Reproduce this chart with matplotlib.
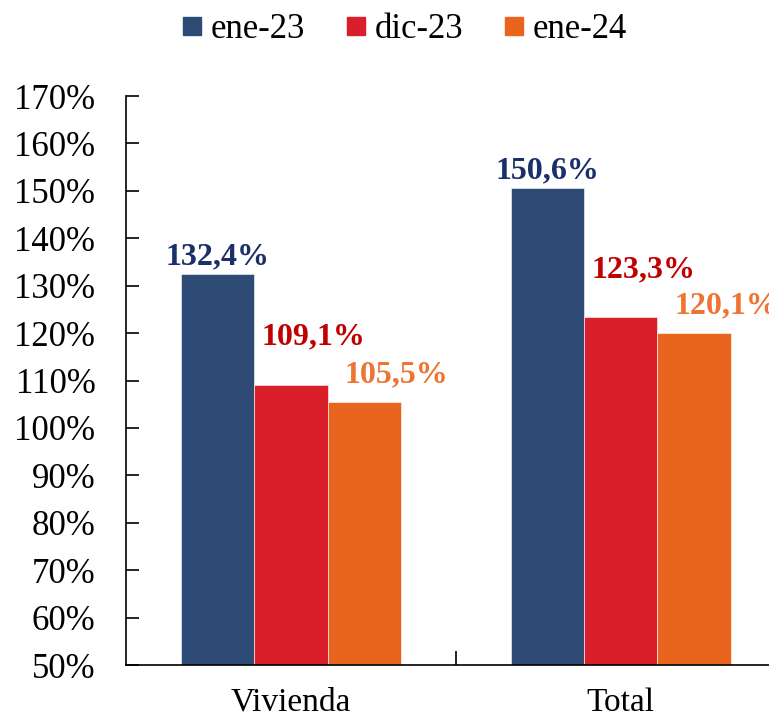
import numpy as np
import matplotlib
matplotlib.use("Agg")
import matplotlib.pyplot as plt
from matplotlib.lines import Line2D

# data
categories = ["Vivienda", "Total"]
series = ["ene-23", "dic-23", "ene-24"]
ene23 = [132.4, 150.6]
dic23 = [109.1, 123.3]
ene24 = [105.5, 120.1]
yticks = list(range(50, 171, 10))

bar_colors = ["#2E4B76", "#DA1F2A", "#E9651E"]
text_colors = ["#1B2F68", "#C00000", "#ED7432"]
# label offsets (points) relative to bar top-center
offsets = [(0, 2), (16, 24), (23, 9)]

plt.rcParams["font.family"] = ["Liberation Serif", "DejaVu Serif"]

fig = plt.figure(figsize=(7.69, 7.17), dpi=100)
ax = fig.add_axes([0.1638, 0.0725, 0.858, 0.7936])

x = np.arange(len(categories))
w = 0.222
vals = [ene23, dic23, ene24]
for i, v in enumerate(vals):
    xs = x + (i - 1) * w
    ax.bar(xs, v, width=w, bottom=0, color=bar_colors[i], edgecolor="white", linewidth=0.4)
    for xi, vi in zip(xs, v):
        ax.annotate(f"{vi:.1f}%".replace(".", ","), (xi, vi),
                    textcoords="offset points", xytext=offsets[i],
                    ha="center", va="bottom", fontsize=23, fontweight="bold",
                    color=text_colors[i], annotation_clip=False)

ax.set_ylim(50, 170)
ax.set_xlim(-0.5, 1.5)
ax.set_yticks(yticks)
ax.set_yticklabels([f"{t}%" for t in yticks], fontsize=25)
ax.tick_params(axis="y", direction="in", length=9, width=1.2, pad=22)
ax.set_xticks(x)
ax.set_xticklabels(categories, fontsize=24)
ax.tick_params(axis="x", length=0, pad=16)
# category boundary tick
ax.set_xticks([0.5], minor=True)
ax.tick_params(axis="x", which="minor", direction="in", length=10, width=1.2)

for s in ["top", "right"]:
    ax.spines[s].set_visible(False)
for s in ["left", "bottom"]:
    ax.spines[s].set_linewidth(1.2)

handles = [Line2D([], [], marker="s", linestyle="none", markersize=13,
                  markerfacecolor=c, markeredgecolor=c) for c in bar_colors]
fig.legend(handles, series, loc="upper center", bbox_to_anchor=(0.51, 1.025), ncol=3,
           frameon=False, fontsize=25, handletextpad=-0.45, columnspacing=0.45)

fig.savefig("out.png", dpi=100)
